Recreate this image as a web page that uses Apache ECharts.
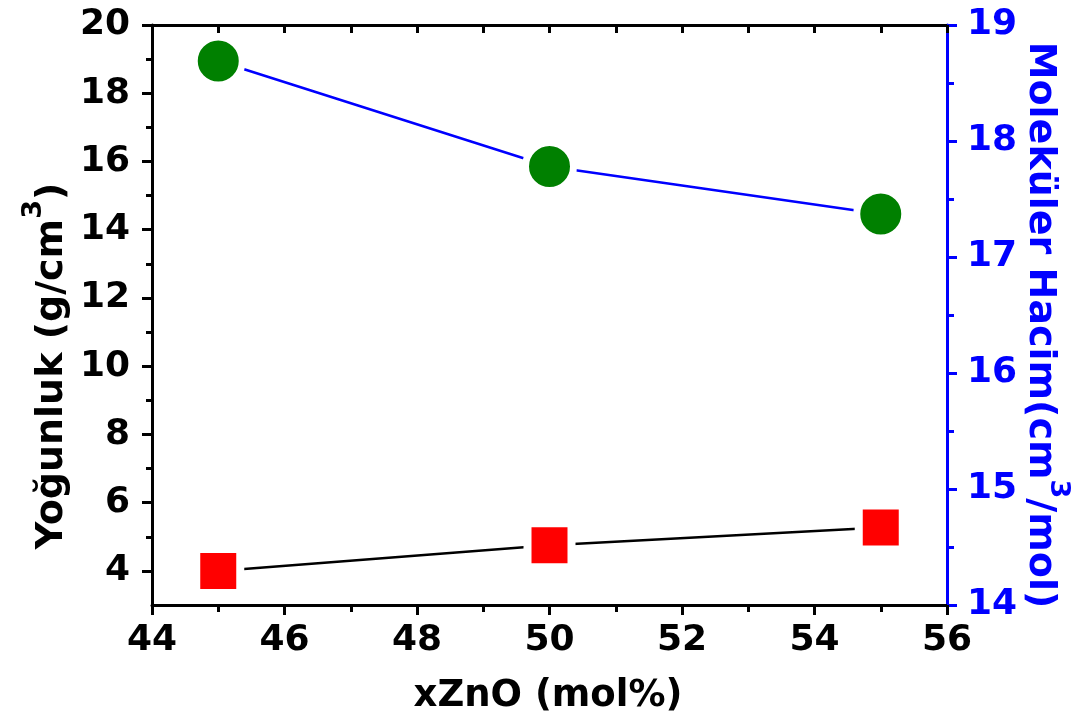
<!DOCTYPE html>
<html>
<head>
<meta charset="utf-8">
<script src="https://cdn.jsdelivr.net/npm/echarts@6/dist/echarts.min.js"></script>
<style>
  html, body { margin: 0; padding: 0; background: #fff; }
  #chart { width: 1088px; height: 724px; }
</style>
</head>
<body>
<div id="chart"></div>
<script>
// ---- data ----
const xZnO = [45, 50, 55];
const yogunluk = [4.0, 4.75, 5.27];          // g/cm3 (left axis)
const molekulerHacim = [18.69, 17.78, 17.37]; // cm3/mol (right axis)
const leftMajorTicks = [4, 6, 8, 10, 12, 14, 16, 18, 20];
const leftMinorTicks = [5, 7, 9, 11, 13, 15, 17, 19];

const FONT = 'DejaVu Sans';
const chart = echarts.init(document.getElementById('chart'));

const titleRich = (color) => ({
  a: { fontSize: 38, fontWeight: 'bold', fontFamily: FONT, color: color, verticalAlign: 'bottom' },
  s: { fontSize: 27, fontWeight: 'bold', fontFamily: FONT, color: color, verticalAlign: 'top', padding: [0, 0, 24, 0] }
});

const option = {
  animation: false,
  backgroundColor: '#fff',
  grid: { left: 152, right: 141, top: 25, bottom: 119, containLabel: false },
  xAxis: [
    {
      type: 'value', position: 'bottom', min: 44, max: 56, interval: 2,
      axisLine: { show: true, lineStyle: { color: '#000', width: 3 } },
      axisTick: { show: true, inside: false, length: 10, lineStyle: { color: '#000', width: 3 } },
      minorTick: { show: true, splitNumber: 2, length: 7, lineStyle: { color: '#000', width: 3 } },
      axisLabel: { margin: 18, fontSize: 36, fontWeight: 'bold', fontFamily: FONT, color: '#000' },
      splitLine: { show: false }
    },
    {
      type: 'value', position: 'top', min: 44, max: 56, interval: 1,
      axisLine: { show: true, lineStyle: { color: '#000', width: 3 } },
      axisTick: { show: true, inside: true, length: 8, lineStyle: { color: '#000', width: 3 } },
      axisLabel: { show: false },
      splitLine: { show: false }
    }
  ],
  yAxis: [
    {
      type: 'value', position: 'left', min: 3, max: 20,
      axisLine: { show: true, lineStyle: { color: '#000', width: 3 } },
      axisTick: { show: true, length: 10, customValues: leftMajorTicks, lineStyle: { color: '#000', width: 3 } },
      axisLabel: { margin: 22, customValues: leftMajorTicks, fontSize: 36, fontWeight: 'bold', fontFamily: FONT, color: '#000' },
      splitLine: { show: false }
    },
    {
      type: 'value', position: 'left', min: 3, max: 20,
      axisLine: { show: false },
      axisTick: { show: true, length: 6, customValues: leftMinorTicks, lineStyle: { color: '#000', width: 3 } },
      axisLabel: { show: false },
      splitLine: { show: false }
    },
    {
      type: 'value', position: 'right', min: 14, max: 19, interval: 1,
      axisLine: { show: true, lineStyle: { color: '#0000ff', width: 3 } },
      axisTick: { show: true, length: 10, lineStyle: { color: '#0000ff', width: 3 } },
      minorTick: { show: true, splitNumber: 2, length: 7, lineStyle: { color: '#0000ff', width: 3 } },
      axisLabel: { margin: 20, fontSize: 36, fontWeight: 'bold', fontFamily: FONT, color: '#0000ff' },
      splitLine: { show: false }
    }
  ],
  series: [
    {
      name: 'Yoğunluk', type: 'line', xAxisIndex: 0, yAxisIndex: 0,
      data: xZnO.map((x, i) => [x, yogunluk[i]]),
      symbol: 'rect', symbolSize: 44,
      itemStyle: { color: '#ff0000', borderColor: '#ffffff', borderWidth: 8 },
      lineStyle: { color: '#000', width: 2.5 },
      z: 3
    },
    {
      name: 'Moleküler Hacim', type: 'line', xAxisIndex: 0, yAxisIndex: 2,
      data: xZnO.map((x, i) => [x, molekulerHacim[i]]),
      symbol: 'circle', symbolSize: 48,
      itemStyle: { color: '#008000', borderColor: '#ffffff', borderWidth: 7 },
      lineStyle: { color: '#0000ff', width: 2.5 },
      z: 3
    }
  ],
  graphic: [
    {
      type: 'text', x: 548, y: 696, z: 10,
      style: {
        text: 'xZnO (mol%)', fill: '#000',
        font: 'bold 37px "DejaVu Sans"',
        textAlign: 'center', textVerticalAlign: 'middle', align: 'center', verticalAlign: 'middle'
      }
    },
    {
      type: 'text', x: 46, y: 366, rotation: Math.PI / 2, z: 10,
      style: {
        text: '{a|Yoğunluk (g/cm}{s|3}{a|)}', fill: '#000',
        font: 'bold 38px "DejaVu Sans"',
        textAlign: 'center', textVerticalAlign: 'middle', align: 'center', verticalAlign: 'middle',
        rich: titleRich('#000')
      }
    },
    {
      type: 'text', x: 1046, y: 325, rotation: -Math.PI / 2, z: 10,
      style: {
        text: '{a|Moleküler Hacim(cm}{s|3}{a|/mol)}', fill: '#0000ff',
        font: 'bold 38px "DejaVu Sans"',
        textAlign: 'center', textVerticalAlign: 'middle', align: 'center', verticalAlign: 'middle',
        rich: titleRich('#0000ff')
      }
    }
  ]
};
chart.setOption(option);
</script>
</body>
</html>
